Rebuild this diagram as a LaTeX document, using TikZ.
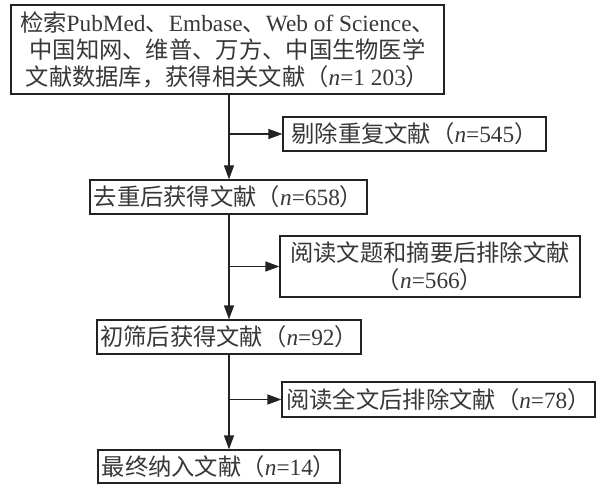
\documentclass[tikz,border=0pt]{standalone}
\usepackage{fontspec}
\setmainfont{Liberation Serif}
\newfontfamily\cjk{Noto Sans CJK SC}
\usetikzlibrary{arrows.meta}
\newcommand{\zh}[1]{{\cjk #1}}
\definecolor{linec}{RGB}{35,35,35}
\definecolor{textc}{RGB}{55,55,55}
\begin{document}
\begin{tikzpicture}[x=1pt,y=-1pt,
  box/.style={draw=linec, line width=1.2pt, inner sep=0pt, align=center,
    text=textc, font=\fontsize{23.3}{27}\selectfont},
  arr/.style={draw=linec, line width=1.2pt, -{Triangle[length=14pt,width=10pt]}}]
\useasboundingbox (0,0) rectangle (600,484);
\node[box, minimum width=433pt, minimum height=89pt] (b1) at (227.5,49.5)
  {\zh{检索}PubMed\zh{、}Embase\zh{、}Web of Science\zh{、}\\
   \zh{中国知网、维普、万方、中国生物医学}\\
   \zh{文献数据库，获得相关文献（}\textit{n}=1\kern0.25em 203\zh{）}};
\node[box, minimum width=263pt, minimum height=34pt] (e1) at (414.5,134)
  {\zh{剔除重复文献（}\textit{n}=545\zh{）}};
\node[box, minimum width=277pt, minimum height=34pt] (b2) at (228.5,197)
  {\zh{去重后获得文献（}\textit{n}=658\zh{）}};
\node[box, minimum width=300pt, minimum height=61pt] (e2) at (430,266.5)
  {\zh{阅读文题和摘要后排除文献}\\ \zh{（}\textit{n}=566\zh{）}};
\node[box, minimum width=264pt, minimum height=34pt] (b3) at (229,337)
  {\zh{初筛后获得文献（}\textit{n}=92\zh{）}};
\node[box, minimum width=313pt, minimum height=35pt] (e3) at (438.5,399.5)
  {\zh{阅读全文后排除文献（}\textit{n}=78\zh{）}};
\node[box, minimum width=242pt, minimum height=33pt] (b4) at (219,466.5)
  {\zh{最终纳入文献（}\textit{n}=14\zh{）}};
\coordinate (t) at (229,0);
\draw[arr] (b1.south -| t) -- (b2.north -| t);
\draw[arr] (t |- e1.west) -- (e1.west);
\draw[arr] (b2.south -| t) -- (b3.north -| t);
\draw[arr] (t |- e2.west) -- (e2.west);
\draw[arr] (b3.south -| t) -- (b4.north -| t);
\draw[arr] (t |- e3.west) -- (e3.west);
\end{tikzpicture}
\end{document}
